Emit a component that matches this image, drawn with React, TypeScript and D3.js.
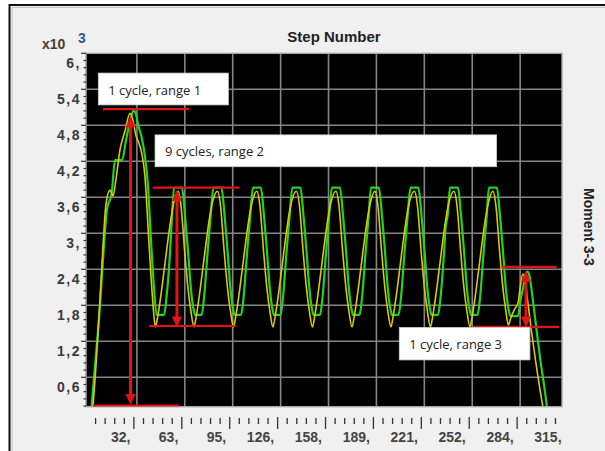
import * as d3 from 'd3'

// step number / moment (x10^3)
const green: [number, number][] = [
  [3.3, 0.0], [5.3, 0.6], [9.2, 1.8], [11.8, 2.8], [13.8, 3.4], [16.9, 3.67], [19.1, 4.22], [23.7, 4.22],
  [26.3, 4.55], [28.9, 4.85], [31.2, 5.05], [32.9, 4.98], [34.4, 4.8], [36.6, 4.6], [38.8, 4.28], [40.8, 3.78],
  [42.7, 2.9], [44.7, 2.1], [46.4, 1.64], [51.3, 1.64],
  [53, 1.95], [55.3, 2.7], [56.6, 3.3], [57.9, 3.76], [63.1, 3.76],
  [65.1, 3.3], [67.1, 2.7], [69.1, 2.05], [71, 1.7], [71.7, 1.64], [76, 1.64], [77.5, 1.9], [80, 2.7], [82, 3.3], [83.8, 3.76], [89.1, 3.76],
  [91.1, 3.3], [93.1, 2.7], [95.1, 2.05], [97, 1.7], [97.7, 1.64], [102, 1.64], [103.5, 1.9], [106, 2.7], [108, 3.3], [109.8, 3.76], [115, 3.76],
  [117, 3.3], [119, 2.7], [121, 2.05], [122.9, 1.7], [123.6, 1.64], [127.9, 1.64], [129.4, 1.9], [131.9, 2.7], [133.9, 3.3], [135.7, 3.76], [141, 3.76],
  [143, 3.3], [145, 2.7], [147, 2.05], [148.9, 1.7], [149.6, 1.64], [153.9, 1.64], [155.4, 1.9], [157.9, 2.7], [159.9, 3.3], [161.7, 3.76], [167, 3.76],
  [169, 3.3], [171, 2.7], [173, 2.05], [174.9, 1.7], [175.6, 1.64], [179.9, 1.64], [181.4, 1.9], [183.9, 2.7], [185.9, 3.3], [187.4, 3.76], [192.6, 3.76],
  [194.6, 3.3], [196.6, 2.7], [198.6, 2.05], [200.5, 1.7], [201.2, 1.64], [205.5, 1.64], [207, 1.9], [209.5, 2.7], [211.5, 3.3], [213.4, 3.76], [218.6, 3.76],
  [220.6, 3.3], [222.6, 2.7], [224.6, 2.05], [226.5, 1.7], [227.2, 1.64], [231.5, 1.64], [233, 1.9], [235.5, 2.7], [236.5, 3.1], [237.8, 3.3], [239.4, 3.76], [244.6, 3.76],
  [246.6, 3.3], [248.6, 2.7], [250.6, 2.05], [252.5, 1.7], [253.2, 1.64], [257.5, 1.64], [259, 1.9], [261.5, 2.7], [263.5, 3.3], [265, 3.76], [270.2, 3.76],
  [272.2, 3.3], [274.2, 2.7], [276.2, 2.05], [278.1, 1.7], [279, 1.62], [284.1, 1.62],
  [285.5, 1.85], [287.5, 2.1], [289.3, 2.33], [290.2, 2.36], [291.5, 2.3], [293.3, 2.0], [295.2, 1.61], [298.5, 0.94], [302.9, 0.14], [303.5, 0.0],
]

const yellow: [number, number][] = [
  [4.2, 0.0], [6.6, 0.8], [9.2, 1.9], [11.2, 2.8], [13.2, 3.5], [15.8, 3.72], [17.8, 3.62], [19.7, 3.9], [22.4, 4.4],
  [25.6, 4.7], [28.9, 5.0], [30.9, 4.88], [32.9, 4.62], [34.4, 4.53], [36.6, 4.34], [38.8, 3.94], [40.8, 3.1],
  [42.7, 2.3], [44.4, 1.7], [45.6, 1.44], [47.2, 1.62], [49.7, 2.05], [52.2, 2.55], [54.2, 2.95], [56.2, 3.3], [58, 3.55],
  [60.5, 3.7], [62.5, 3.45], [64.8, 2.72], [67, 2.1], [69, 1.7], [71, 1.44], [72.5, 1.62], [75, 2.05], [77.5, 2.55], [79.5, 2.95], [81.5, 3.3], [83.5, 3.55],
  [86.5, 3.7], [88.5, 3.45], [90.8, 2.72], [93, 2.1], [95, 1.7], [97, 1.44], [98.5, 1.62], [101, 2.05], [103.5, 2.55], [105.5, 2.95], [107.5, 3.3], [109.5, 3.55],
  [112.4, 3.7], [114.4, 3.45], [116.7, 2.72], [118.9, 2.1], [120.9, 1.7], [122.9, 1.44], [124.4, 1.62], [126.9, 2.05], [129.4, 2.55], [131.4, 2.95], [133.4, 3.3], [135.4, 3.55],
  [138.4, 3.7], [140.4, 3.45], [142.7, 2.72], [144.9, 2.1], [146.9, 1.7], [148.9, 1.44], [150.4, 1.62], [152.9, 2.05], [155.4, 2.55], [157.4, 2.95], [159.4, 3.3], [161.4, 3.55],
  [164.4, 3.7], [166.4, 3.45], [168.7, 2.72], [170.9, 2.1], [172.9, 1.7], [174.9, 1.44], [176.4, 1.62], [178.9, 2.05], [181.4, 2.55], [183.4, 2.95], [185.4, 3.3], [187.4, 3.55],
  [190, 3.7], [192, 3.45], [194.3, 2.72], [196.5, 2.1], [198.5, 1.7], [200.5, 1.44], [202, 1.62], [204.5, 2.05], [207, 2.55], [209, 2.95], [211, 3.3], [213, 3.55],
  [216, 3.7], [218, 3.45], [220.3, 2.72], [222.5, 2.1], [224.5, 1.7], [226.5, 1.44], [228, 1.62], [230.5, 2.05], [233, 2.55], [235, 2.95], [237, 3.3], [239, 3.55],
  [242, 3.7], [244, 3.45], [246.3, 2.72], [248.5, 2.1], [250.5, 1.7], [252.5, 1.44], [254, 1.62], [256.5, 2.05], [259, 2.55], [261, 2.95], [263, 3.3], [265, 3.55],
  [267.6, 3.7], [269.6, 3.45], [271.9, 2.72], [274.1, 2.1], [276.1, 1.7], [277.7, 1.47],
  [279.5, 1.6], [281.5, 1.72], [284.1, 1.84], [285.5, 2.1], [287.3, 2.32], [288.5, 2.25], [290.3, 1.9], [292.5, 1.45], [295.5, 0.9], [300.5, 0.1], [301.2, 0.0],
]

const xTickValues = [31.5, 63, 94.5, 126, 157.5, 189, 220.5, 252, 283.5, 315]
const xTickLabels = ['32,', '63,', '95,', '126,', '158,', '189,', '221,', '252,', '284,', '315,']
const yTickValues = [0.6, 1.2, 1.8, 2.4, 3.0, 3.6, 4.2, 4.8, 5.4, 6.0]
const yTickLabels = ['0,6', '1,2', '1,8', '2,4', '3,', '3,6', '4,2', '4,8', '5,4', '6,']

// red range markers
const rangeLines = [
  { x0: 11.2, x1: 67.7, v: 5.07 },
  { x0: 4.6, x1: 61.2, v: 0.13 },
  { x0: 43.9, x1: 100.8, v: 3.76 },
  { x0: 41.4, x1: 98.6, v: 1.455 },
  { x0: 273.3, x1: 309.5, v: 2.44 },
  { x0: 254.7, x1: 311.2, v: 1.44 },
]
const rangeArrows = [
  { x: 29.3, v0: 4.95, v1: 0.14 },
  { x: 59.8, v0: 3.72, v1: 1.43 },
  { x: 289.3, v0: 2.37, v1: 1.43 },
]
const notes = [
  { label: '1 cycle, range 1', x0: 8.1, x1: 93.6, v0: 5.67, v1: 5.14 },
  { label: '9 cycles, range 2', x0: 45.4, x1: 270.0, v0: 4.64, v1: 4.11 },
  { label: '1 cycle, range 3', x0: 206.0, x1: 291.9, v0: 1.43, v1: 0.89 },
]

const W = 605
const H = 451
const left = 86
const right = 562
const top = 53.3
const bottom = 406.7

const x = d3.scaleLinear().domain([0, 313]).range([left, right])
const y = d3.scaleLinear().domain([0.11, 6.0]).range([bottom, top])

const line = d3
  .line<[number, number]>()
  .x((d) => x(d[0]))
  .y((d) => y(d[1]))
  .curve(d3.curveMonotoneX)

const axisFont = "'Liberation Sans', Arial, sans-serif"
const red = '#e41212'

export default function App() {
  const xMinor = d3.range(6.3, 313, 6.3).filter((v) => Math.abs(v / 31.5 - Math.round(v / 31.5)) > 0.01)
  const yMinor = d3.range(0.12, 6.0, 0.12).filter((v) => v >= 0.11 && Math.abs(v / 0.6 - Math.round(v / 0.6)) > 0.01)

  return (
    <svg width={W} height={H} style={{ position: 'absolute', left: 0, top: 0, background: '#fff' }}>
      {/* outer frame */}
      <rect x={9.5} y={5} width={640} height={480} fill="#f0f0f0" stroke="#111" strokeWidth={2} />
      <rect x={12} y={7.5} width={640} height={480} fill="none" stroke="#c4c4c4" strokeWidth={1} />

      <defs>
        <clipPath id="plot">
          <rect x={left} y={top} width={right - left} height={bottom - top} />
        </clipPath>
      </defs>

      {/* plot area */}
      <rect x={left} y={top} width={right - left} height={bottom - top} fill="#000" />
      <g stroke="#858585" strokeWidth={1.6}>
        {yTickValues.slice(0, -1).map((v) => (
          <line key={v} x1={left} x2={right} y1={y(v)} y2={y(v)} />
        ))}
        {xTickValues.filter((v) => x(v) + 3 < right).map((v) => (
          <line key={v} x1={x(v) + 3} x2={x(v) + 3} y1={top} y2={bottom} />
        ))}
      </g>

      <g clipPath="url(#plot)" fill="none">
        <path d={line(green) ?? ''} stroke="#22d422" strokeWidth={2.2} />
        <path d={line(yellow) ?? ''} stroke="#dcc800" strokeWidth={1.6} />
      </g>

      {/* plot border */}
      <rect x={left} y={top} width={right - left} height={bottom - top} fill="none" stroke="#a8a8a8" strokeWidth={1.4} />

      {/* ranges */}
      <g stroke={red} strokeWidth={2.2}>
        {rangeLines.map((r, i) => (
          <line key={i} x1={x(r.x0)} x2={x(r.x1)} y1={y(r.v)} y2={y(r.v)} />
        ))}
      </g>
      {rangeArrows.map((a, i) => {
        const ax = x(a.x)
        const y0 = y(a.v0)
        const y1 = y(a.v1)
        const hl = 11
        const hw = 5
        return (
          <g key={i} fill={red}>
            <line x1={ax} x2={ax} y1={y0 + hl - 1} y2={y1 - hl + 1} stroke={red} strokeWidth={3} />
            <path d={`M${ax},${y0} L${ax - hw},${y0 + hl} L${ax + hw},${y0 + hl} Z`} />
            <path d={`M${ax},${y1} L${ax - hw},${y1 - hl} L${ax + hw},${y1 - hl} Z`} />
          </g>
        )
      })}

      {/* note boxes */}
      {notes.map((n) => (
        <g key={n.label}>
          <rect
            x={x(n.x0)}
            y={y(n.v0)}
            width={x(n.x1) - x(n.x0)}
            height={y(n.v1) - y(n.v0)}
            fill="#fff"
            stroke="#cfcfcf"
            strokeWidth={0.8}
          />
          <text
            x={x(n.x0) + 10}
            y={y(n.v0) + 21.5}
            fontFamily="'Open Sans', sans-serif"
            fontSize={13}
            fill="#222"
          >
            {n.label}
          </text>
        </g>
      ))}

      {/* y axis */}
      <g stroke="#333" strokeWidth={1.2}>
        {yTickValues.map((v) => (
          <line key={v} x1={left - 5} x2={left} y1={y(v)} y2={y(v)} />
        ))}
        {yMinor.map((v) => (
          <line key={v} x1={left - 2.5} x2={left} y1={y(v)} y2={y(v)} />
        ))}
      </g>
      <g fontFamily={axisFont} fontWeight="bold" fontSize={14} fill="#3a3a3a" textAnchor="end">
        {yTickValues.map((v, i) => (
          <text key={v} x={81} y={y(v) + 9.5} dominantBaseline="central" letterSpacing={1.5}>
            {yTickLabels[i]}
          </text>
        ))}
      </g>

      {/* x axis */}
      <g stroke="#333" strokeWidth={1.3}>
        {xTickValues.filter((v) => v <= 313).map((v) => (
          <line key={v} x1={x(v)} x2={x(v)} y1={417} y2={429} />
        ))}
        {xMinor.map((v) => (
          <line key={v} x1={x(v)} x2={x(v)} y1={418} y2={424} />
        ))}
      </g>
      <g fontFamily={axisFont} fontWeight="bold" fontSize={14} fill="#444" textAnchor="end">
        {xTickValues.map((v, i) => (
          <text key={v} x={x(v) - 3.5} y={442}>
            {xTickLabels[i]}
          </text>
        ))}
      </g>

      {/* titles */}
      <text x={42} y={49} fontFamily={axisFont} fontWeight="bold" fontSize={14} fill="#4b3b2a">
        x10
      </text>
      <text x={78} y={43} fontFamily={axisFont} fontWeight="bold" fontSize={14} fill="#35588a">
        3
      </text>
      <text x={334} y={42} fontFamily={axisFont} fontWeight="bold" fontSize={15} fill="#222" textAnchor="middle">
        Step Number
      </text>
      <text
        transform="translate(589,227) rotate(90)"
        fontFamily={axisFont}
        fontWeight="bold"
        fontSize={14}
        fill="#222"
        textAnchor="middle"
        dominantBaseline="central"
      >
        Moment 3-3
      </text>
    </svg>
  )
}
